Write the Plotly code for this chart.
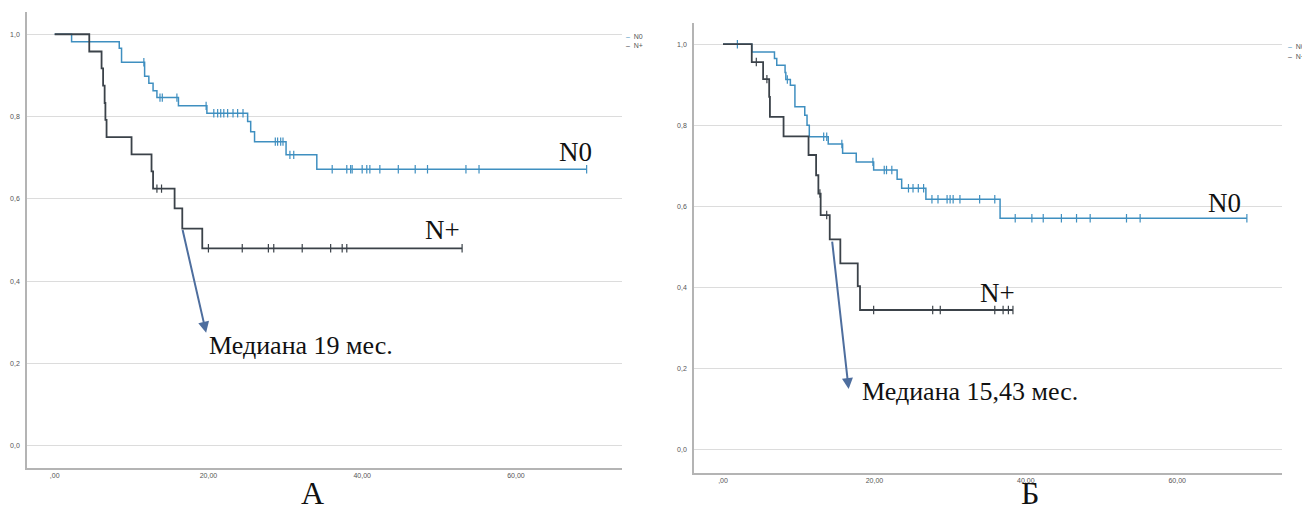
import plotly.graph_objects as go

# ---------------- data ----------------
x_tickvals = [0, 20, 40, 60]
x_ticktext = [",00", "20,00", "40,00", "60,00"]
y_tickvals = [0.0, 0.2, 0.4, 0.6, 0.8, 1.0]
y_ticktext = ["0,0", "0,2", "0,4", "0,6", "0,8", "1,0"]

# Panel A
a_n0_event_t = [2.2, 8.4, 8.7, 11.7, 12.25, 12.8, 13.3, 16.1, 19.8, 25.1, 25.5, 26.0, 30.1, 34.1]
a_n0_surv = [0.982, 0.966, 0.932, 0.898, 0.881, 0.863, 0.846, 0.826, 0.808, 0.788, 0.763, 0.739, 0.707, 0.672]
a_n0_cens_t = [11.6, 13.7, 14.0, 15.9, 19.7, 20.7, 21.2, 21.6, 22.0, 22.5, 23.2, 23.8, 24.5,
               28.7, 29.0, 29.4, 29.7, 30.6, 31.1, 36.1, 38.0, 38.5, 38.7, 40.0, 40.6, 41.0,
               42.3, 44.7, 46.9, 48.5, 53.5, 55.2, 69.2]

a_np_event_t = [4.5, 6.1, 6.3, 6.5, 6.6, 6.75, 10.0, 12.6, 12.8, 15.6, 16.6, 19.2]
a_np_surv = [0.958, 0.917, 0.875, 0.833, 0.792, 0.750, 0.708, 0.667, 0.625, 0.577, 0.528, 0.480]
a_np_cens_t = [13.3, 13.9, 20.0, 24.4, 27.8, 28.5, 32.2, 35.9, 37.4, 38.0, 53.0]

# Panel B
b_n0_event_t = [3.8, 6.8, 7.1, 8.2, 8.3, 8.9, 9.5, 10.8, 11.1, 11.4, 13.9, 15.8, 17.6, 19.9, 23.0, 23.6, 26.8, 36.6]
b_n0_surv = [0.981, 0.965, 0.948, 0.930, 0.913, 0.899, 0.846, 0.825, 0.800, 0.772, 0.754, 0.731,
             0.710, 0.690, 0.667, 0.645, 0.618, 0.571]
b_n0_cens_t = [1.9, 8.5, 13.3, 13.7, 15.7, 19.8, 21.3, 21.6, 22.3, 24.5, 25.1, 25.8, 26.5, 27.6,
               28.4, 29.6, 30.0, 30.4, 31.3, 33.9, 35.9, 38.6, 40.8, 42.3, 44.7, 46.7, 48.5,
               53.3, 55.1, 69.2]

b_np_event_t = [3.8, 5.3, 6.1, 6.2, 8.0, 11.3, 12.3, 12.6, 12.9, 14.1, 15.5, 17.8, 18.1]
b_np_surv = [0.956, 0.914, 0.870, 0.821, 0.773, 0.727, 0.677, 0.632, 0.579, 0.519, 0.460, 0.404, 0.345]
b_np_cens_t = [4.4, 5.8, 12.8, 13.7, 19.9, 27.7, 28.7, 35.9, 37.0, 37.7, 38.3]

group_names = ["N0", "N+"]
median_texts = ["Медиана 19 мес.", "Медиана 15,43 мес."]
panel_letters = ["А", "Б"]

# ---------------- styles ----------------
C_N0 = "#3f8fc0"
C_NP = "#3b4249"
GRID = "#dcdcdc"
AXIS = "#b4b4b4"
ARROW = "#4e6e9e"
SERIF = "Liberation Serif"
SANS = "Liberation Sans"

# page has an 8px body margin: work in page pixels, convert to figure paper coords
OFF = 8
W, H = 1310 - OFF, 513 - OFF


def PX(px):
    return (px - OFF) / W


def PY(py):
    return 1 - (py - OFF) / H


def surv_at(t, ev_t, surv):
    s = 1.0
    for et, sv in zip(ev_t, surv):
        if et <= t:
            s = sv
    return s


def add_curve(fig, ev_t, surv, cens_t, color, xa, ya, name, lw):
    end_t = max(cens_t + ev_t)
    xs = [0] + ev_t + [end_t]
    ys = [1.0] + surv + [surv[-1]]
    fig.add_trace(go.Scatter(x=xs, y=ys, mode="lines", line=dict(color=color, width=lw, shape="hv"),
                             xaxis=xa, yaxis=ya, name=name, showlegend=False, hoverinfo="skip"))
    fig.add_trace(go.Scatter(x=cens_t, y=[surv_at(t, ev_t, surv) for t in cens_t], mode="markers",
                             marker=dict(symbol="line-ns", size=6, color=color,
                                         line=dict(color=color, width=1.2)),
                             xaxis=xa, yaxis=ya, name=name + " censored", showlegend=False, hoverinfo="skip"))


fig = go.Figure()
add_curve(fig, a_n0_event_t, a_n0_surv, a_n0_cens_t, C_N0, "x", "y", "N0", 1.5)
add_curve(fig, a_np_event_t, a_np_surv, a_np_cens_t, C_NP, "x", "y", "N+", 1.8)
add_curve(fig, b_n0_event_t, b_n0_surv, b_n0_cens_t, C_N0, "x2", "y2", "N0", 1.5)
add_curve(fig, b_np_event_t, b_np_surv, b_np_cens_t, C_NP, "x2", "y2", "N+", 1.8)


def xaxis_cfg(dom, rng, anchor):
    return dict(domain=dom, range=rng, tickvals=x_tickvals, ticktext=x_ticktext, showgrid=False,
                zeroline=False, showline=True, linecolor=AXIS, linewidth=1.5, ticks="",
                anchor=anchor, automargin=False,
                tickfont=dict(family=SANS, size=7, color="#555"))


def yaxis_cfg(dom, rng, anchor):
    return dict(domain=dom, range=rng, tickvals=y_tickvals, ticktext=y_ticktext, showgrid=True,
                gridcolor=GRID, gridwidth=1.3, zeroline=False, showline=True, linecolor=AXIS,
                linewidth=1.5, ticks="", anchor=anchor, automargin=False, ticklabelstandoff=4,
                tickfont=dict(family=SANS, size=7, color="#555"))


fig.update_layout(
    width=W, height=H, margin=dict(l=0, r=0, t=0, b=0),
    paper_bgcolor="white", plot_bgcolor="white", showlegend=False,
    xaxis=xaxis_cfg([PX(27), PX(622)], [-3.6, 73.8], "y"),
    yaxis=yaxis_cfg([PY(467.7), PY(12)], [-0.053, 1.054], "x"),
    xaxis2=xaxis_cfg([PX(694), PX(1281.7)], [-3.83, 73.8], "y2"),
    yaxis2=yaxis_cfg([PY(472.7), PY(22.7)], [-0.056, 1.053], "x2"),
)

ann = []
# median arrows
ann.append(dict(xref="x", yref="y", axref="x", ayref="y", x=19.7, y=0.275, ax=16.6, ay=0.528,
                text="", showarrow=True, arrowhead=2, arrowsize=1.1, arrowwidth=2, arrowcolor=ARROW,
                standoff=0, startstandoff=0))
ann.append(dict(xref="x2", yref="y2", axref="x2", ayref="y2", x=16.6, y=0.15, ax=14.4, ay=0.517,
                text="", showarrow=True, arrowhead=2, arrowsize=1.1, arrowwidth=2, arrowcolor=ARROW,
                standoff=0, startstandoff=0))
# median texts
ann.append(dict(xref="x", yref="y", x=19.8, y=0.245, text=median_texts[0], showarrow=False,
                xanchor="left", yanchor="middle", font=dict(family=SERIF, size=26, color="#111")))
ann.append(dict(xref="x2", yref="y2", x=18.1, y=0.144, text=median_texts[1], showarrow=False,
                xanchor="left", yanchor="middle", font=dict(family=SERIF, size=26, color="#111")))
# group labels
ann.append(dict(xref="x", yref="y", x=67.8, y=0.714, text=group_names[0], showarrow=False,
                font=dict(family=SERIF, size=27, color="#111")))
ann.append(dict(xref="x", yref="y", x=50.4, y=0.524, text=group_names[1], showarrow=False,
                font=dict(family=SERIF, size=27, color="#111")))
ann.append(dict(xref="x2", yref="y2", x=66.3, y=0.608, text=group_names[0], showarrow=False,
                font=dict(family=SERIF, size=27, color="#111")))
ann.append(dict(xref="x2", yref="y2", x=36.2, y=0.387, text=group_names[1], showarrow=False,
                font=dict(family=SERIF, size=27, color="#111")))
# panel letters (kept inside the figure bottom edge)
ann.append(dict(xref="paper", yref="paper", x=PX(312), y=0, text=panel_letters[0],
                showarrow=False, xanchor="center", yanchor="bottom",
                font=dict(family=SERIF, size=32, color="#111")))
ann.append(dict(xref="paper", yref="paper", x=PX(1030), y=0, text=panel_letters[1],
                showarrow=False, xanchor="center", yanchor="bottom",
                font=dict(family=SERIF, size=32, color="#111")))
# small legends
for lx, ly0 in [(624, 36), (1286, 47)]:
    for i, (nm, col) in enumerate(zip(group_names, [C_N0, C_NP])):
        ann.append(dict(xref="paper", yref="paper", x=PX(lx), y=PY(ly0 + i * 10),
                        text=f"<span style='color:{col}'>–</span>  {nm}", showarrow=False,
                        xanchor="left", yanchor="middle", font=dict(family=SANS, size=7, color="#555")))

fig.update_layout(annotations=ann)
fig.write_html("out.html")
